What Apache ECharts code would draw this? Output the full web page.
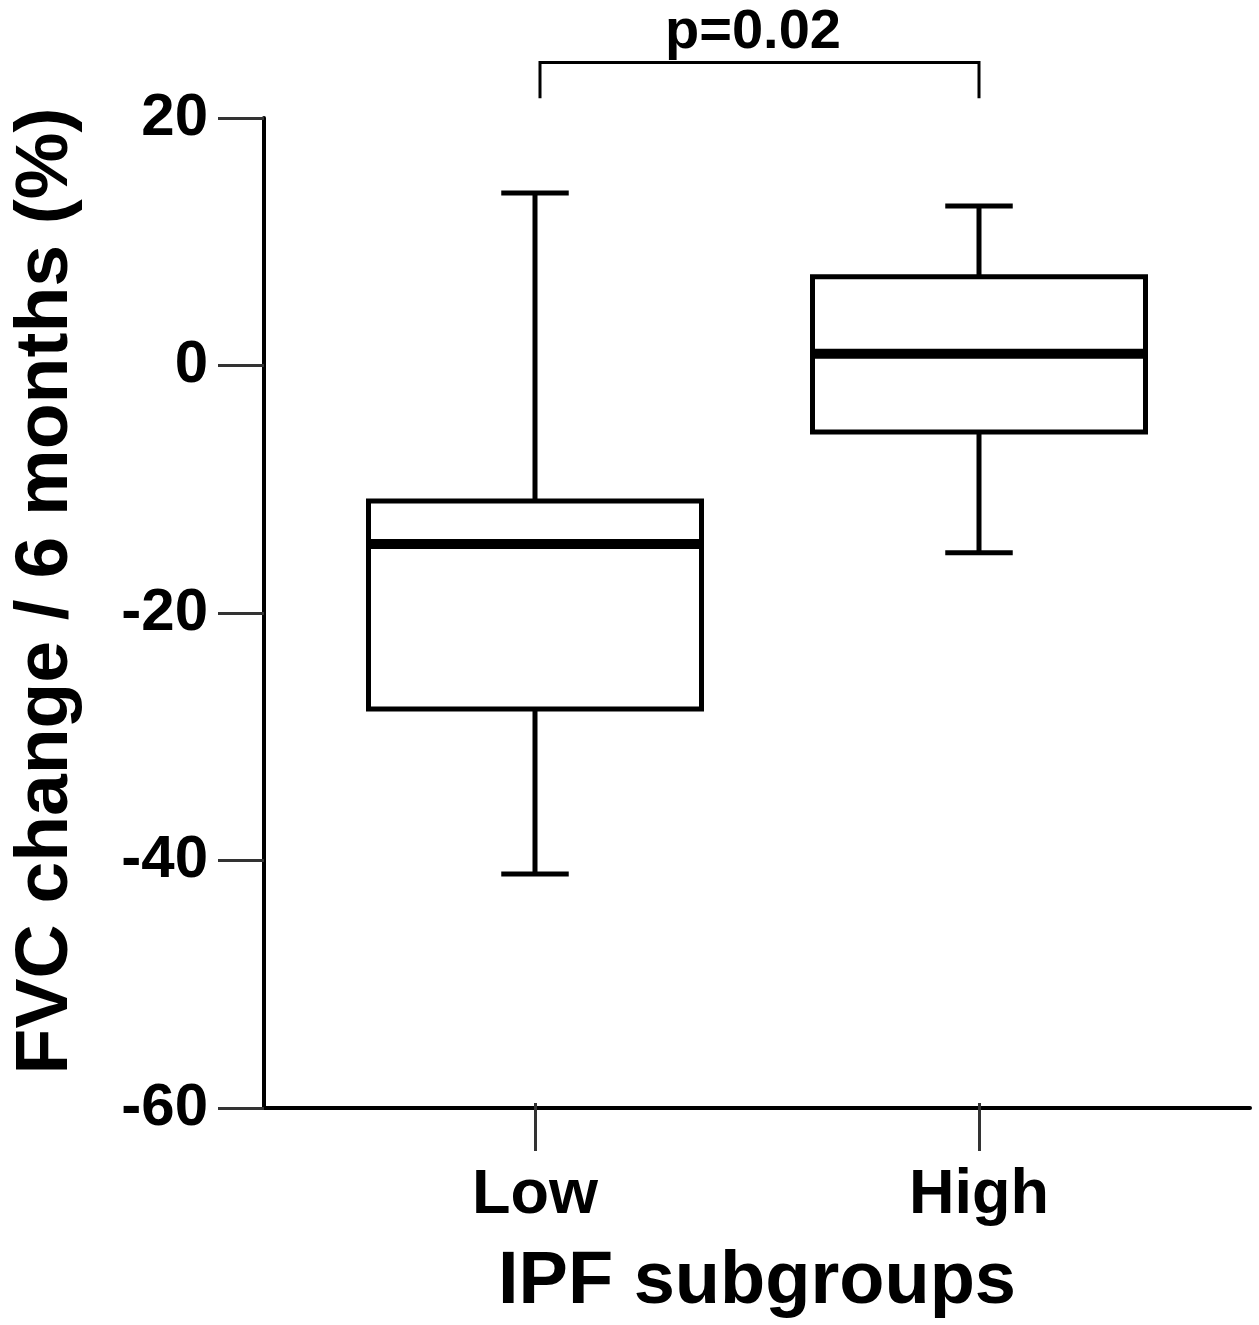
<!DOCTYPE html>
<html>
<head>
<meta charset="utf-8">
<script src="https://cdn.jsdelivr.net/npm/echarts@6/dist/echarts.min.js"></script>
<style>
  html, body { margin: 0; padding: 0; background: #fff; }
  #main { width: 1259px; height: 1325px; }
</style>
</head>
<body>
<div id="main"></div>
<script>
// groups on the x axis
var groups = ['Low', 'High'];
// box values per group: [min, Q1, median, Q3, max]
var lowBox = [-41.4, -28.0, -14.6, -11.1, 13.9];
var highBox = [-15.3, -5.5, 0.85, 7.1, 12.85];
// y axis ticks
var yMin = -60, yMax = 20, yStep = 20;
// significance bracket: [from group, to group, bracket top, bracket foot]
var bracket = [0, 1, 24.5, 21.6];
var pText = 'p=0.02';

var FONT = '"Liberation Sans", Arial, sans-serif';

var chartDom = document.getElementById('main');
var myChart = echarts.init(chartDom);

function renderBox(params, api) {
  var x = api.value(0);
  var lo = api.coord([x, api.value(1)]);
  var q1 = api.coord([x, api.value(2)]);
  var med = api.coord([x, api.value(3)]);
  var q3 = api.coord([x, api.value(4)]);
  var hi = api.coord([x, api.value(5)]);
  var band = api.size([1, 0])[0];
  var bw = band * 0.75;    // box width
  var cw = band * 0.152;   // cap width
  var cx = med[0];
  var ls = { stroke: '#000', lineWidth: 5, fill: null };
  return {
    type: 'group',
    children: [
      { type: 'line', shape: { x1: cx, y1: q3[1], x2: cx, y2: hi[1] }, style: ls },
      { type: 'line', shape: { x1: cx, y1: q1[1], x2: cx, y2: lo[1] }, style: ls },
      { type: 'line', shape: { x1: cx - cw / 2, y1: hi[1], x2: cx + cw / 2, y2: hi[1] }, style: ls },
      { type: 'line', shape: { x1: cx - cw / 2, y1: lo[1], x2: cx + cw / 2, y2: lo[1] }, style: ls },
      { type: 'rect', shape: { x: cx - bw / 2, y: q3[1], width: bw, height: q1[1] - q3[1] },
        style: { stroke: '#000', lineWidth: 5, fill: '#fff' } },
      { type: 'line', shape: { x1: cx - bw / 2, y1: med[1], x2: cx + bw / 2, y2: med[1] },
        style: { stroke: '#000', lineWidth: 10 } }
    ]
  };
}

function renderBracket(params, api) {
  var a = api.coord([api.value(0), api.value(3)]);
  var b = api.coord([api.value(0), api.value(2)]);
  var c = api.coord([api.value(1), api.value(2)]);
  var d = api.coord([api.value(1), api.value(3)]);
  return {
    type: 'group',
    children: [
      { type: 'polyline', shape: { points: [[a[0] + 5, a[1]], [b[0] + 5, b[1]], [c[0], c[1]], [d[0], d[1]]] },
        style: { stroke: '#000', lineWidth: 3, fill: null } },
      { type: 'text', x: (b[0] + c[0]) / 2 - 4, y: b[1] - 2,
        style: { text: pText, fill: '#000', font: 'bold 56px ' + FONT, align: 'center', verticalAlign: 'bottom' } }
    ]
  };
}

var option = {
  backgroundColor: '#fff',
  animation: false,
  grid: [
    { left: 264, right: 9, top: 118, bottom: 217 },
    { left: 313, right: 58, top: 118, bottom: 217 }
  ],
  xAxis: [
    {
      gridIndex: 0, type: 'value', min: 0, max: 1,
      axisLine: { show: true, onZero: false, lineStyle: { color: '#000', width: 4 } },
      axisTick: { show: false }, axisLabel: { show: false }, splitLine: { show: false }
    },
    {
      gridIndex: 1, type: 'category', data: groups,
      axisLine: { show: true, onZero: false, lineStyle: { color: 'rgba(0,0,0,0)', width: 0 } },
      axisTick: { show: true, alignWithLabel: true, length: 48, lineStyle: { color: '#333', width: 3 } },
      axisLabel: { margin: 61, color: '#000', fontSize: 63, fontWeight: 'bold', fontFamily: FONT },
      name: 'IPF subgroups', nameLocation: 'middle', nameGap: 143,
      nameTextStyle: { color: '#000', fontSize: 74, fontWeight: 'bold', fontFamily: FONT },
      splitLine: { show: false }
    }
  ],
  yAxis: [
    {
      gridIndex: 0, type: 'value', min: yMin, max: yMax, interval: yStep,
      axisLine: { show: true, onZero: false, lineStyle: { color: '#000', width: 4 } },
      axisTick: { show: true, length: 46, lineStyle: { color: '#333', width: 3 } },
      axisLabel: { margin: 56, color: '#000', fontSize: 60, fontWeight: 'bold', fontFamily: FONT },
      name: 'FVC change / 6 months (%)', nameLocation: 'middle', nameGap: 180,
      nameTextStyle: { color: '#000', fontSize: 75, fontWeight: 'bold', fontFamily: FONT,
        padding: [0, 0, 0, 44] },
      splitLine: { show: false }
    },
    {
      gridIndex: 1, type: 'value', min: yMin, max: yMax, interval: yStep, show: false
    }
  ],
  series: [
    {
      type: 'custom', xAxisIndex: 1, yAxisIndex: 1,
      renderItem: renderBox, clip: false,
      data: [[0].concat(lowBox), [1].concat(highBox)]
    },
    {
      type: 'custom', xAxisIndex: 1, yAxisIndex: 1,
      renderItem: renderBracket, clip: false,
      data: [bracket]
    }
  ]
};

myChart.setOption(option);
</script>
</body>
</html>
